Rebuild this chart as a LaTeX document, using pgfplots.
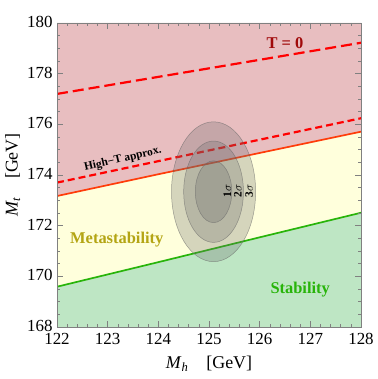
\documentclass[border=0pt]{standalone}
\usepackage{fontspec}
\setmainfont{Liberation Serif}
\usepackage{pgfplots}
\pgfplotsset{compat=1.18}

\definecolor{instab}{RGB}{232,190,192}
\definecolor{metastab}{RGB}{255,255,220}
\definecolor{stab}{RGB}{190,230,196}
\definecolor{redline}{RGB}{255,60,10}
\definecolor{greenline}{RGB}{40,180,10}
\definecolor{metatext}{RGB}{180,165,20}
\definecolor{darkred}{RGB}{160,10,10}

\begin{document}
\begin{tikzpicture}
\begin{axis}[
  name=ax,
  scale only axis, width=304bp, height=304bp,
  xmin=122, xmax=128, ymin=168, ymax=180,
  xtick={122,...,128}, ytick={168,170,...,180},
  minor x tick num=4, minor y tick num=3,
  tick align=inside, major tick length=6bp, minor tick length=3bp,
  tick style={gray, line width=0.6pt},
  axis line style={gray, line width=0.6pt},
  axis on top,
  ticklabel style={font=\fontsize{17}{19}\selectfont},
  xticklabel style={yshift=-3bp},
  yticklabel style={xshift=-1bp, yshift=1bp},
  /pgf/number format/assume math mode=true,
  /pgf/number format/1000 sep={},
  xlabel={\textit{M}\textsubscript{\textit{h}}\quad[GeV]},
  ylabel={\textit{M}\textsubscript{\textit{t}}\quad[GeV]},
  label style={font=\fontsize{18}{20}\selectfont},
  xlabel style={yshift=-4bp},
  ylabel style={yshift=0bp},
]
% regions
\addplot[draw=none, fill=stab] coordinates {(122,168) (122,169.59) (128,172.51) (128,168)} -- cycle;
\addplot[draw=none, fill=metastab] coordinates {(122,169.59) (128,172.51) (128,175.71) (122,173.17)} -- cycle;
\addplot[draw=none, fill=instab] coordinates {(122,173.17) (128,175.71) (128,180) (122,180)} -- cycle;

% boundaries
\addplot[redline, line width=1.7pt] coordinates {(122,173.17) (124,174.03) (126,174.87) (128,175.71)};
\addplot[greenline, line width=1.7pt] coordinates {(122,169.59) (124,170.56) (126,171.54) (128,172.51)};
\addplot[red, line width=2.2pt, dash pattern=on 11bp off 5bp] coordinates {(122,177.20) (125,178.21) (128,179.22)};
\addplot[red, line width=2.2pt, dash pattern=on 7bp off 4bp] coordinates {(122,173.70) (125,174.97) (128,176.24)};

% confidence ellipses
\filldraw[fill=black!58, fill opacity=0.28, draw=black!60, draw opacity=0.6, line width=0.5pt]
  (axis cs:125.09,173.34) ellipse [x radius=0.83, y radius=2.76];
\filldraw[fill=black!58, fill opacity=0.28, draw=black!60, draw opacity=0.6, line width=0.5pt]
  (axis cs:125.09,173.34) ellipse [x radius=0.59, y radius=2.0];
\filldraw[fill=black!58, fill opacity=0.28, draw=black!60, draw opacity=0.6, line width=0.5pt]
  (axis cs:125.09,173.34) ellipse [x radius=0.36, y radius=1.22];

\node[rotate=90, font=\fontsize{11.5}{13}\selectfont\bfseries] at (axis cs:125.36,173.37) {1$\sigma$};
\node[rotate=90, font=\fontsize{11.5}{13}\selectfont\bfseries] at (axis cs:125.57,173.37) {2$\sigma$};
\node[rotate=90, font=\fontsize{11.5}{13}\selectfont\bfseries] at (axis cs:125.79,173.37) {3$\sigma$};

% labels
\node[darkred, font=\fontsize{16.5}{18}\selectfont\bfseries] at (axis cs:126.5,179.2) {T = 0};
\node[black, rotate=13, font=\fontsize{11.5}{13}\selectfont\bfseries] at (axis cs:123.3,174.62) {High−T approx.};
\node[metatext, font=\fontsize{16.5}{18}\selectfont\bfseries] at (axis cs:123.18,171.46) {Metastability};
\node[greenline, font=\fontsize{16.5}{18}\selectfont\bfseries] at (axis cs:126.8,169.49) {Stability};
\end{axis}
\path ([shift={(-57bp,-52bp)}]ax.south west) rectangle ([shift={(13bp,23bp)}]ax.north east);
\end{tikzpicture}
\end{document}
